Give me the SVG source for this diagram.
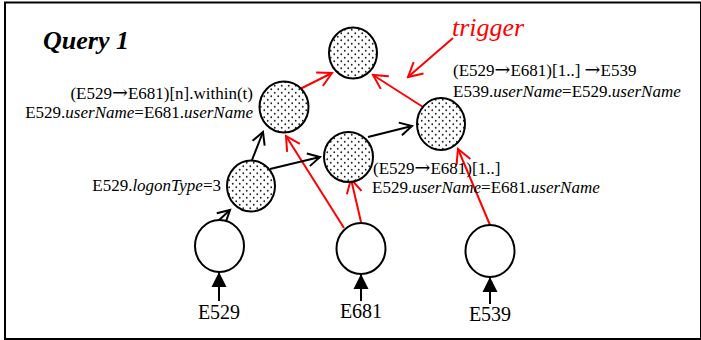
<svg xmlns="http://www.w3.org/2000/svg" width="701" height="340" viewBox="0 0 701 340">
<defs>
<pattern id="dots" width="7" height="7" patternUnits="userSpaceOnUse">
<rect width="7" height="7" fill="#fff"/>
<circle cx="1.75" cy="1.75" r="0.9" fill="#222"/>
<circle cx="5.25" cy="5.25" r="0.9" fill="#222"/>
</pattern>
<marker id="openB" markerUnits="userSpaceOnUse" markerWidth="20" markerHeight="20" viewBox="-16 -10 20 20" refX="0" refY="0" orient="auto">
<path d="M-12,-6.5 L0,0 L-12,6.5" fill="none" stroke="#000" stroke-width="2"/>
</marker>
<marker id="openR" markerUnits="userSpaceOnUse" markerWidth="20" markerHeight="20" viewBox="-18 -10 20 20" refX="0" refY="0" orient="auto">
<path d="M-14,-7.5 L0,0 L-14,7.5" fill="none" stroke="#f00" stroke-width="2"/>
</marker>
<marker id="tri" markerUnits="userSpaceOnUse" markerWidth="20" markerHeight="20" viewBox="-16 -10 20 20" refX="0" refY="0" orient="auto">
<path d="M-15,-7.5 L0,0 L-15,7.5 Z" fill="#000"/>
</marker>
</defs>
<style>
.t{font-family:'Liberation Serif','Times New Roman',serif;font-size:17px;fill:#000}
.i{font-style:italic}
.ar{font-family:'DejaVu Serif',serif;font-size:19px}
.op{fill:url(#dots);stroke:#000;stroke-width:2}
.in{fill:#fff;stroke:#000;stroke-width:2}
.bk{stroke:#000;stroke-width:2;fill:none;marker-end:url(#openB)}
.rd{stroke:#f00;stroke-width:2;fill:none;marker-end:url(#openR)}
.ip{stroke:#000;stroke-width:2;fill:none;marker-end:url(#tri)}
.lbl{font-family:'Liberation Serif','Times New Roman',serif;font-size:20px;fill:#000;text-anchor:middle}
</style>
<rect x="5" y="2.5" width="696" height="336.5" fill="#fff" stroke="#000" stroke-width="2"/>
<text x="43" y="49" style="font-family:'Liberation Serif','Times New Roman',serif;font-size:26px;font-weight:bold;font-style:italic">Query 1</text>
<text x="452" y="36" style="font-family:'Liberation Serif','Times New Roman',serif;font-size:26px;font-style:italic;fill:#f00">trigger</text>
<g id="connectors">
<line class="rd" x1="453" y1="38" x2="408" y2="77"/>
<line class="rd" x1="300" y1="89" x2="332" y2="73"/>
<line class="rd" x1="423" y1="107" x2="373" y2="75"/>
<line class="rd" x1="344" y1="228" x2="286" y2="136"/>
<line class="rd" x1="361" y1="222" x2="351" y2="179"/>
<line class="rd" x1="490" y1="225" x2="458" y2="149"/>
<line class="bk" x1="218" y1="221" x2="230" y2="210"/>
<line class="bk" x1="252" y1="160" x2="263" y2="132"/>
<line class="bk" x1="270" y1="169" x2="320" y2="157"/>
<line class="bk" x1="368" y1="137" x2="412" y2="126"/>
<line class="ip" x1="219" y1="301" x2="219" y2="272"/>
<line class="ip" x1="361" y1="301" x2="361" y2="274"/>
<line class="ip" x1="490" y1="304" x2="490" y2="277"/>
</g>
<g id="n-trigger"><ellipse class="op" cx="353" cy="53" rx="24" ry="25.5"/></g>
<g id="n-within"><ellipse class="op" cx="284" cy="107" rx="24.5" ry="25.5"/>
<text class="t" x="253" y="99" text-anchor="end">(E529<tspan class="ar">→</tspan>E681)[n].within(t)</text>
<text class="t" x="253" y="118" text-anchor="end">E529.<tspan class="i">userName</tspan>=E681.<tspan class="i">userName</tspan></text></g>
<g id="n-seq539"><ellipse class="op" cx="441" cy="124" rx="24" ry="26"/>
<text class="t" x="453" y="76">(E529<tspan class="ar">→</tspan>E681)[1..] <tspan class="ar">→</tspan>E539</text>
<text class="t" x="453" y="97">E539.<tspan class="i">userName</tspan>=E529.<tspan class="i">userName</tspan></text></g>
<g id="n-seq"><ellipse class="op" cx="348.5" cy="157" rx="24.5" ry="25"/>
<text class="t" x="373" y="174">(E529<tspan class="ar">→</tspan>E681)[1..]</text>
<text class="t" x="372" y="193">E529.<tspan class="i">userName</tspan>=E681.<tspan class="i">userName</tspan></text></g>
<g id="n-logon"><ellipse class="op" cx="251" cy="186" rx="24" ry="25.5"/>
<text class="t" x="221" y="191" text-anchor="end">E529.<tspan class="i">logonType</tspan>=3</text></g>
<g id="n-e529"><ellipse class="in" cx="219.5" cy="246" rx="24.5" ry="26"/>
<text class="lbl" x="219" y="319">E529</text></g>
<g id="n-e681"><ellipse class="in" cx="361" cy="248.5" rx="24.5" ry="25.5"/>
<text class="lbl" x="361" y="318">E681</text></g>
<g id="n-e539"><ellipse class="in" cx="490" cy="251" rx="24.5" ry="26"/>
<text class="lbl" x="490" y="321">E539</text></g>
</svg>
